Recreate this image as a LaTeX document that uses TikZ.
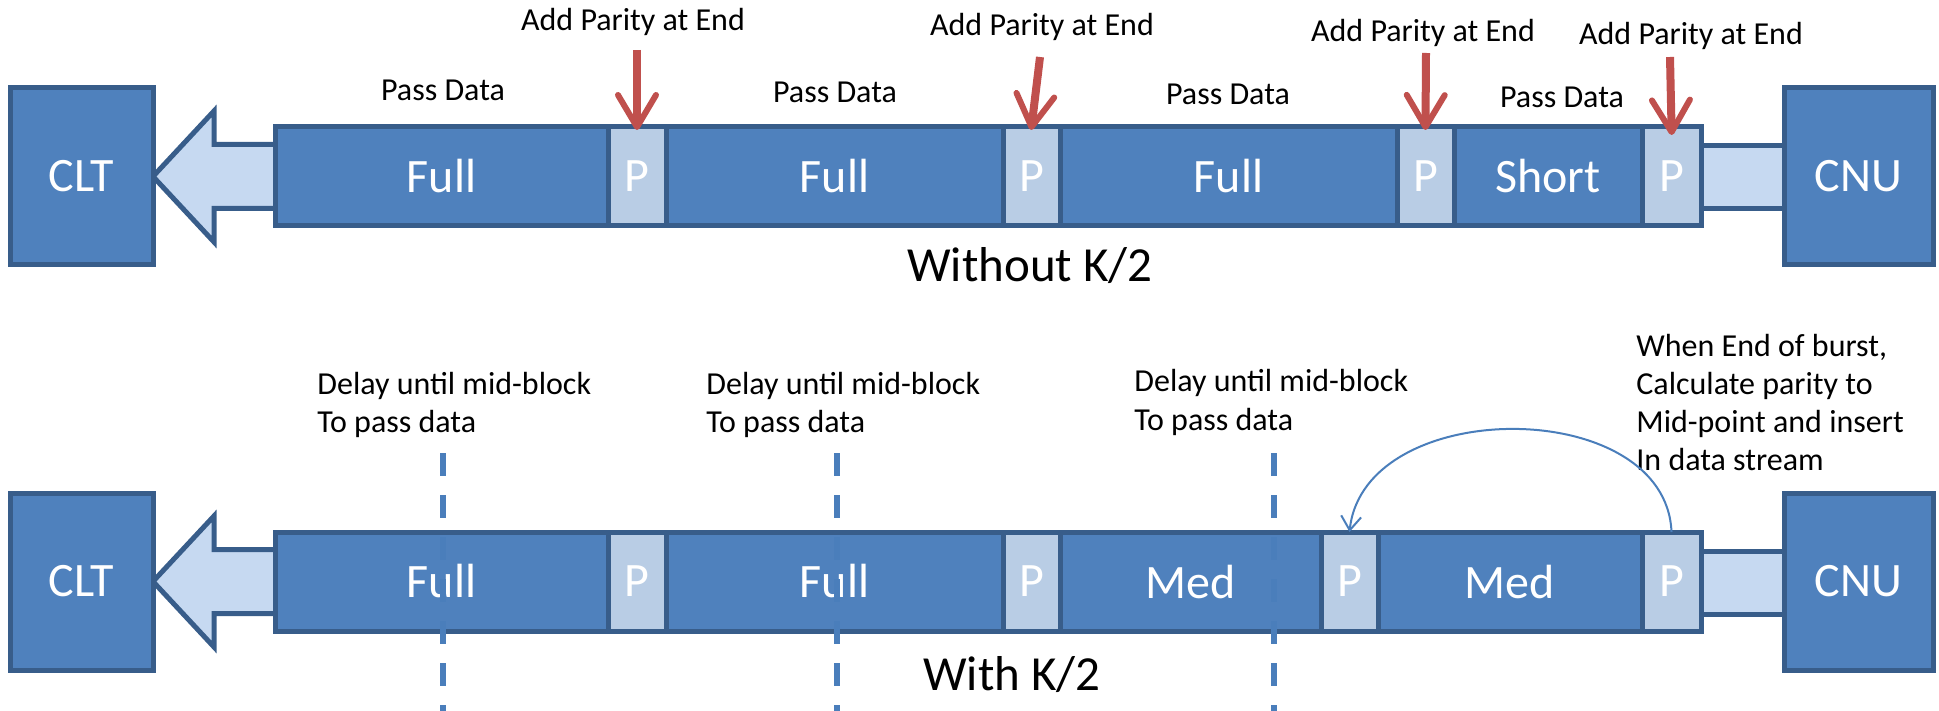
\documentclass[tikz,border=0pt]{standalone}
\usepackage{fontspec}
\setmainfont{Carlito}
\usetikzlibrary{arrows.meta}
\definecolor{blkfill}{HTML}{4F81BD}
\definecolor{blkdraw}{HTML}{385D8A}
\definecolor{pfill}{HTML}{B9CDE5}
\definecolor{cfill}{HTML}{C6D9F1}
\definecolor{redarr}{HTML}{C0504D}
\definecolor{dashc}{HTML}{4A7EBB}
\tikzset{
  blk/.style={draw=blkdraw, fill=blkfill, line width=2.5pt, inner sep=0pt, outer sep=0pt,
    minimum height=49.5pt, text=white, font=\fontsize{24}{28}\selectfont},
  pblk/.style={blk, fill=pfill, minimum width=29pt},
  endbox/.style={blk, minimum height=88.5pt},
  conn/.style={draw=blkdraw, fill=cfill, line width=2.5pt, inner sep=0pt, outer sep=0pt,
    minimum height=31.5pt, minimum width=43pt},
  bigarrow/.style={draw=blkdraw, fill=cfill, line width=2.5pt, line join=miter},
  redline/.style={draw=redarr, line width=4pt, -{Straight Barb[length=16pt,width=19pt,line width=3pt,round]}},
  curv/.style={draw=dashc, line width=1pt, -{Straight Barb[length=7pt,width=10pt,line width=1pt]}},
  dline/.style={draw=dashc, line width=3pt, dash pattern=on 11.5pt off 9.5pt},
  small/.style={font=\fontsize{16}{19}\selectfont, inner sep=0pt},
  captext/.style={font=\fontsize{24.5}{29}\selectfont, inner sep=0pt},
}
\begin{document}
\begin{tikzpicture}[x=0.5pt, y=-0.5pt]
\useasboundingbox (0,0) rectangle (1939,711);

% ---------------- Top row: Without K/2 ----------------
\draw[bigarrow] (153,176.5) -- (214,111) -- (214,144.5) -- (285,144.5) -- (285,208.5) -- (214,208.5) -- (214,242) -- cycle;
\node[conn] (c1) at (1743,177.5) {};
\node[blk, minimum width=166.5pt] (f1) at (441.5,176.5) {Full};
\node[pblk] (p1) at (637,176.5) {P};
\node[blk, minimum width=168.5pt] (f2) at (834.5,176.5) {Full};
\node[pblk, minimum width=28.5pt] (p2) at (1031.5,176.5) {P};
\node[blk, minimum width=168.5pt] (f3) at (1228.5,176.5) {Full};
\node[pblk, minimum width=28.5pt] (p3) at (1425.5,176.5) {P};
\node[blk, minimum width=94pt] (s1) at (1548,176.5) {Short};
\node[pblk, minimum width=29.5pt] (p4) at (1671.5,176.5) {P};
\node[endbox, minimum width=71.5pt] (clt1) at (81.5,176.5) {CLT};
\node[endbox, minimum width=74.5pt] (cnu1) at (1858.5,176.5) {CNU};

\node[small, anchor=base] (pd1) at (443,101) {Pass Data};
\node[small, anchor=base] (pd2) at (835,103) {Pass Data};
\node[small, anchor=base] (pd3) at (1228,105) {Pass Data};
\node[small, anchor=base] (pd4) at (1562,108) {Pass Data};

\node[small, anchor=base] (ap1) at (633,31) {Add Parity at End};
\node[small, anchor=base] (ap2) at (1042,36) {Add Parity at End};
\node[small, anchor=base] (ap3) at (1423,42) {Add Parity at End};
\node[small, anchor=base] (ap4) at (1691,45) {Add Parity at End};

\coordinate (a1) at (637,50);
\coordinate (a2) at (1040,57);
\coordinate (a3) at (1426,53);
\coordinate (a4) at (1670,57);
\draw[redline, shorten >=-1.5pt] (a1) -- (p1.north);
\draw[redline, shorten >=-1.5pt] (a2) -- (p2.north);
\draw[redline, shorten >=-1.5pt] (a3) -- (p3.north);
\draw[redline, shorten >=-4pt] (a4) -- (p4.north);

\node[captext, anchor=base] (wo) at (1030,282) {Without K/2};

% ---------------- Bottom row: With K/2 ----------------
\draw[bigarrow] (153,581.5) -- (214,516) -- (214,549.5) -- (285,549.5) -- (285,613.5) -- (214,613.5) -- (214,647) -- cycle;
\node[conn] (c2) at (1743,582.5) {};
\node[blk, minimum width=166.5pt] (g1) at (441.5,581.5) {Full};
\node[pblk] (q1) at (637,581.5) {P};
\node[blk, minimum width=168.5pt] (g2) at (834.5,581.5) {Full};
\node[pblk, minimum width=28.5pt] (q2) at (1031.5,581.5) {P};
\node[blk, minimum width=130.5pt] (m1) at (1190.5,581.5) {Med};
\node[pblk, minimum width=28.5pt] (q3) at (1349.5,581.5) {P};
\node[blk, minimum width=132pt] (m2) at (1510,581.5) {Med};
\node[pblk, minimum width=29.5pt] (q4) at (1671.5,581.5) {P};
\node[endbox, minimum width=71.5pt] (clt2) at (81.5,581.5) {CLT};
\node[endbox, minimum width=74.5pt] (cnu2) at (1858.5,581.5) {CNU};

\node[small, anchor=base west] (dl1a) at (317,394) {Delay until mid-block};
\node[small, anchor=base west] (dl1b) at (317,432) {To pass data};
\node[small, anchor=base west] (dl2a) at (706,394) {Delay until mid-block};
\node[small, anchor=base west] (dl2b) at (706,432) {To pass data};
\node[small, anchor=base west] (dl3a) at (1134,392) {Delay until mid-block};
\node[small, anchor=base west] (dl3b) at (1134,430) {To pass data};

\node[small, anchor=base west] (we1) at (1636,357) {When End of burst,};
\node[small, anchor=base west] (we2) at (1636,394) {Calculate parity to};
\node[small, anchor=base west] (we3) at (1636,432) {Mid-point and insert};
\node[small, anchor=base west] (we4) at (1636,470) {In data stream};

\coordinate (d1t) at (443,453); \coordinate (d1b) at (443,711);
\coordinate (d2t) at (837,453); \coordinate (d2b) at (837,711);
\coordinate (d3t) at (1274,453); \coordinate (d3b) at (1274,711);
\draw[dline] (d1t) -- (d1b);
\draw[dline] (d2t) -- (d2b);
\draw[dline] (d3t) -- (d3b);

\draw[curv] (q4.north) .. controls (1666,395) and (1364,395) .. (q3.north);

\node[captext, anchor=base] (wi) at (1012,690) {With K/2};
\end{tikzpicture}
\end{document}
